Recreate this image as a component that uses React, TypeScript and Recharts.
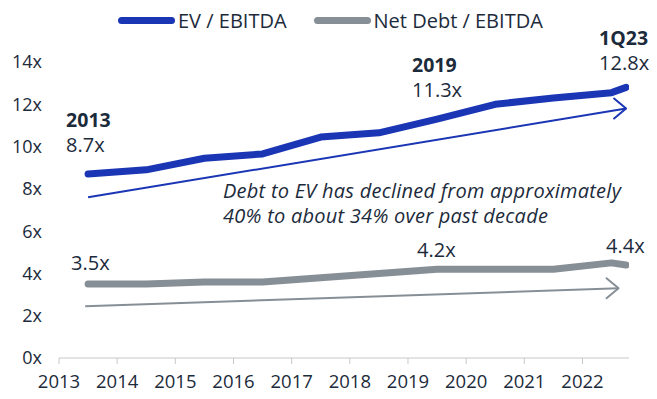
import { LabelList, Line, LineChart, XAxis, YAxis } from 'recharts';

// x positions of the plotted points (mid-year) and their names
const pointX = [2013.5, 2014.5, 2015.5, 2016.5, 2017.5, 2018.5, 2019.5, 2020.5, 2021.5, 2022.5, 2022.75];
const pointNames = ['2013', '2014', '2015', '2016', '2017', '2018', '2019', '2020', '2021', '2022', '1Q23'];
const evEbitda = [8.7, 8.9, 9.45, 9.65, 10.45, 10.65, 11.3, 12.0, 12.3, 12.55, 12.8];
const netDebtEbitda = [3.5, 3.5, 3.6, 3.6, 3.8, 4.0, 4.2, 4.2, 4.2, 4.5, 4.4];
const calloutIdx = [0, 6, 10];

const yearTicks = [2013, 2014, 2015, 2016, 2017, 2018, 2019, 2020, 2021, 2022];
const yTicks = [0, 2, 4, 6, 8, 10, 12, 14];

const evTrend = [
  { x: 2013.5, y: 7.6 },
  { x: 2022.75, y: 11.8 },
];
const netDebtTrend = [
  { x: 2013.45, y: 2.45 },
  { x: 2022.62, y: 3.3 },
];

const blue = '#1b36b5';
const grey = '#878f96';
const ink = '#1c2b3b';
const font = '"Open Sans", sans-serif';

const rows = pointX.map((x, i) => ({ x, ev: evEbitda[i], nd: netDebtEbitda[i] }));

function EvLabel(props: any) {
  const { x, y, value, index } = props;
  if (!calloutIdx.includes(index)) return null;
  const dx = index === 0 ? -22 : index === 6 ? -25 : -27;
  const dy = index === 10 ? -17 : -22;
  return (
    <g fontFamily={font} fill={ink}>
      <text x={x + dx} y={y + dy - 25} fontSize={19.5} fontWeight={700}>
        {pointNames[index]}
      </text>
      <text x={x + dx} y={y + dy} fontSize={20}>
        {`${value}x`}
      </text>
    </g>
  );
}

function NetDebtLabel(props: any) {
  const { x, y, value, index } = props;
  if (!calloutIdx.includes(index)) return null;
  const dx = index === 0 ? -17 : -20;
  const dy = index === 0 ? -14 : -12;
  return (
    <text x={x + dx} y={y + dy} fontSize={20} fontFamily={font} fill={ink}>
      {`${value}x`}
    </text>
  );
}

function arrowHead(color: string) {
  return (p: any) => {
    if (p.index !== 1) return <g key={`h${p.index}`} />;
    const { cx, cy } = p;
    return (
      <path
        key={`h${p.index}`}
        d={`M${cx - 12},${cy - 10} L${cx},${cy} L${cx - 12},${cy + 10}`}
        fill="none"
        stroke={color}
        strokeWidth={2}
        strokeLinecap="round"
        strokeLinejoin="round"
      />
    );
  };
}

function LegendItem({ color, label, gap }: { color: string; label: string; gap: number }) {
  return (
    <div style={{ display: 'flex', alignItems: 'center', marginRight: gap }}>
      <div style={{ width: 57, height: 7, borderRadius: 4, background: color, marginRight: 3 }} />
      <span>{label}</span>
    </div>
  );
}

export default function App() {
  return (
    <div style={{ position: 'absolute', left: 0, top: 0, width: 657, height: 399, background: '#fff', fontFamily: font }}>
      <div style={{ position: 'absolute', left: 118, top: 7, display: 'flex', fontSize: 20, color: ink }}>
        <LegendItem color={blue} label="EV / EBITDA" gap={27} />
        <LegendItem color={grey} label="Net Debt / EBITDA" gap={0} />
      </div>
      <div
        style={{
          position: 'absolute',
          left: 223,
          top: 178,
          fontSize: 20,
          letterSpacing: 0.25,
          fontStyle: 'italic',
          color: ink,
          lineHeight: '25px',
          whiteSpace: 'nowrap',
        }}
      >
        Debt to EV has declined from approximately
        <br />
        40% to about 34% over past decade
      </div>
      <LineChart width={657} height={399} data={rows} margin={{ top: 62, right: 28, bottom: 11, left: 9 }}>
        <XAxis
          dataKey="x"
          type="number"
          domain={[2013, 2022.8]}
          ticks={yearTicks}
          allowDataOverflow
          stroke="#c8c8c8"
          tickSize={6}
          tickMargin={11}
          height={30}
          tick={{ fill: ink, fontSize: 18.5, fontFamily: font }}
        />
        <YAxis
          type="number"
          domain={[0, 14]}
          ticks={yTicks}
          axisLine={false}
          tickLine={false}
          width={50}
          tickMargin={11}
          tickFormatter={(v) => `${v}x`}
          tick={{ fill: ink, fontSize: 18, fontFamily: font }}
        />
        <Line
          data={evTrend}
          dataKey="y"
          type="linear"
          stroke={blue}
          strokeWidth={2}
          dot={arrowHead(blue)}
          activeDot={false}
          isAnimationActive={false}
        />
        <Line
          data={netDebtTrend}
          dataKey="y"
          type="linear"
          stroke={grey}
          strokeWidth={2}
          dot={arrowHead(grey)}
          activeDot={false}
          isAnimationActive={false}
        />
        <Line
          dataKey="ev"
          type="linear"
          stroke={blue}
          strokeWidth={7}
          strokeLinecap="round"
          strokeLinejoin="round"
          dot={false}
          isAnimationActive={false}
        >
          <LabelList dataKey="ev" content={EvLabel} />
        </Line>
        <Line
          dataKey="nd"
          type="linear"
          stroke={grey}
          strokeWidth={7}
          strokeLinecap="round"
          strokeLinejoin="round"
          dot={false}
          isAnimationActive={false}
        >
          <LabelList dataKey="nd" content={NetDebtLabel} />
        </Line>
      </LineChart>
    </div>
  );
}
